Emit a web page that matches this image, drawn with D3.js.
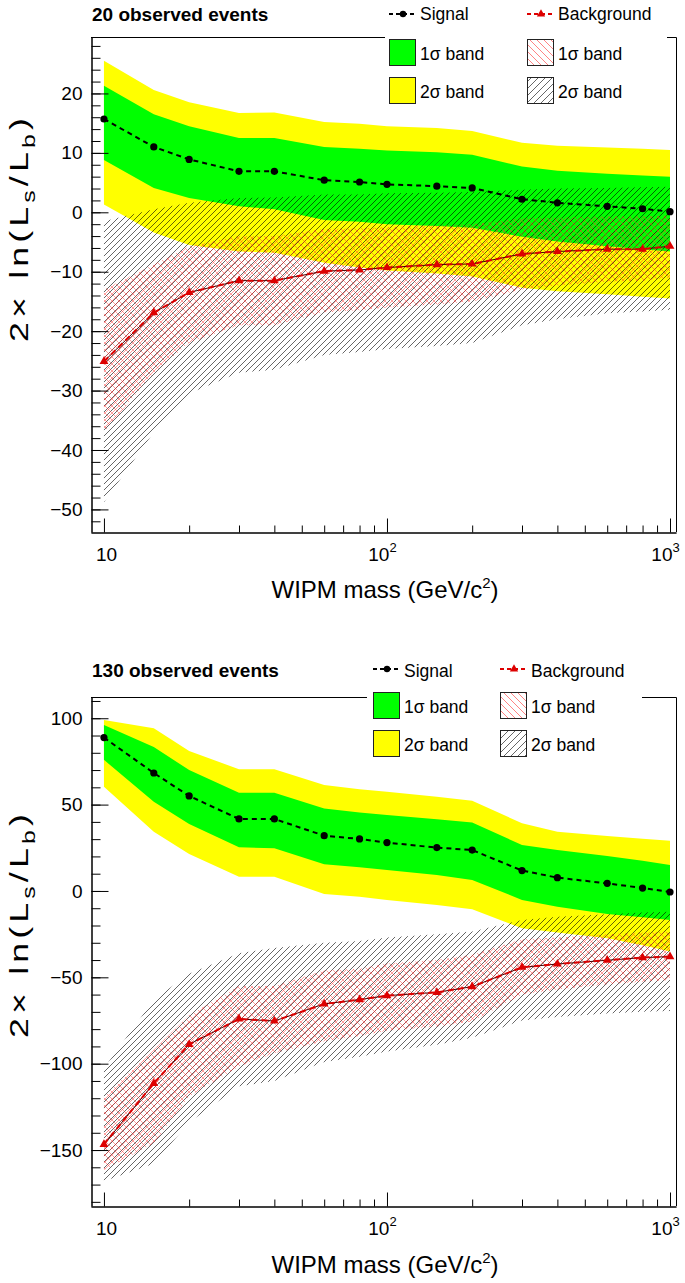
<!DOCTYPE html>
<html>
<head>
<meta charset="utf-8">
<script src="https://cdnjs.cloudflare.com/ajax/libs/d3/7.8.5/d3.min.js"></script>
<style>
body { margin: 0; background: #fff; }
svg { display: block; font-family: "Liberation Sans", Arial, Helvetica, sans-serif; }
</style>
</head>
<body>
<div class="js-chart"></div>
<script>
'use strict';

//wipm mass points (GeV/c^2)
var masses = [10, 15, 20, 30, 40, 60, 80, 100, 150, 200, 300, 400, 600, 800, 1000];

//20 observed events - signal hypothesis and its bands
var sig20 = [15.7, 11.0, 8.9, 6.9, 6.9, 5.4, 5.1, 4.7, 4.4, 4.1, 2.2, 1.6, 1.0, 0.6, 0.1];
var sig20Lo1 = [8.8, 4.1, 2.4, 1.0, 0.5, -1.3, -1.6, -2.0, -2.3, -2.6, -4.1, -4.9, -5.7, -6.2, -6.6];
var sig20Hi1 = [21.3, 16.5, 14.5, 12.5, 12.5, 11.0, 10.7, 10.4, 10.1, 9.7, 7.7, 7.0, 6.5, 6.2, 6.0];
var sig20Lo2 = [1.3, -3.4, -5.5, -6.6, -6.8, -8.5, -9.3, -9.8, -10.3, -10.8, -12.7, -13.3, -13.8, -14.2, -14.5];
var sig20Hi2 = [25.5, 20.6, 18.5, 16.7, 16.8, 15.2, 14.9, 14.5, 14.2, 13.7, 11.7, 11.2, 10.9, 10.7, 10.5];

//20 observed events - background hypothesis and its bands
var bkg20 = [-25.1, -16.9, -13.5, -11.5, -11.5, -9.9, -9.7, -9.3, -8.8, -8.7, -7.0, -6.6, -6.2, -6.2, -5.7];
var bkg20Lo1 = [-37, -27, -22, -19, -19, -16.8, -16.5, -16, -15.5, -15, -13, -12.3, -11.7, -11.5, -11];
var bkg20Hi1 = [-13, -8.8, -5.7, -4, -4, -2.8, -2.7, -2.5, -2.2, -2, -1, -0.9, -0.7, -0.7, -0.5];
var bkg20Lo2 = [-48.8, -37, -30.5, -27, -26.5, -24, -23.5, -23, -22.5, -22, -19, -18, -17, -16.7, -16.4];
var bkg20Hi2 = [-1.5, 0.5, 1.6, 2.4, 2.5, 3, 3, 3.2, 3.3, 3.4, 3.8, 4, 4.1, 4.2, 4.3];

//130 observed events - signal hypothesis and its bands
var sig130 = [88.8, 68.3, 55.0, 41.7, 41.7, 32.0, 30.1, 28.0, 25.1, 23.7, 11.8, 7.7, 4.4, 1.7, -0.6];
var sig130Lo1 = [75.9, 51.7, 38.8, 25.3, 24.7, 15.5, 13.7, 12.2, 9.3, 6.4, -5.2, -9.1, -13.3, -15.2, -16.8];
var sig130Hi1 = [96.1, 83.4, 70.0, 56.9, 56.9, 47.8, 45.4, 44.0, 41.5, 39.6, 26.6, 23.7, 20.3, 17.5, 15.1];
var sig130Lo2 = [60.4, 34.3, 21.4, 8.3, 8.3, -1.7, -3.3, -5.2, -8.1, -10.6, -21.6, -24.1, -27.4, -31.5, -35.1];
var sig130Hi2 = [99.0, 94.2, 81.0, 70.5, 70.5, 61.4, 58.9, 57.5, 54.6, 52.3, 39.2, 34.3, 31.8, 30.3, 29.1];

//130 observed events - background hypothesis and its bands
var bkg130 = [-146.7, -111.4, -88.8, -74.1, -75.3, -65.4, -62.9, -60.6, -58.7, -55.4, -44.2, -42.3, -40.1, -38.6, -38.0];
var bkg130Lo1 = [-161.5, -146, -119, -101.6, -94, -87, -84, -81, -78.5, -75.6, -60, -57, -54, -52.5, -51.5];
var bkg130Hi1 = [-119, -92, -72, -55, -55, -46, -45, -42, -40, -37, -28, -27, -25, -24, -23.6];
var bkg130Lo2 = [-168, -158, -134, -113, -110, -99, -96, -93, -89, -85, -75, -73, -71, -70, -69.5];
var bkg130Hi2 = [-102.6, -63, -48, -36, -33, -30, -29, -27, -25, -23.5, -16.8, -15, -13.5, -12.5, -12];

//axis ticks
var xMajor = [10, 100, 1000];
var xMinor = [20, 30, 40, 50, 60, 70, 80, 90, 200, 300, 400, 500, 600, 700, 800, 900];
var yMajor20 = [-50, -40, -30, -20, -10, 0, 10, 20];
var yMajor130 = [-150, -100, -50, 0, 50, 100];

var xDomain = [9.0, 1050];
var frameLeft = 91, frameRight = 676;

//one panel per observed count, layout in pixels
var panels = [
    {
        key: 'p20', title: '20 observed events',
        sig: sig20, sigLo1: sig20Lo1, sigHi1: sig20Hi1, sigLo2: sig20Lo2, sigHi2: sig20Hi2,
        bkg: bkg20, bkgLo1: bkg20Lo1, bkgHi1: bkg20Hi1, bkgLo2: bkg20Lo2, bkgHi2: bkg20Hi2,
        top: 37, bottom: 532, yDomain: [-53.8, 29.5],
        yMajor: yMajor20, yMinor: d3.range(-52, 29.5, 2),
        titleY: 21, xTitleY: 598, yTitleY: 228,
        leg: { x0: 385, x1: 667, y0: 0, y1: 108, c1: 389, c2: 527, lineY: 14, textY0: 20, box1: 39, box2: 77 }
    },
    {
        key: 'p130', title: '130 observed events',
        sig: sig130, sigLo1: sig130Lo1, sigHi1: sig130Hi1, sigLo2: sig130Lo2, sigHi2: sig130Hi2,
        bkg: bkg130, bkgLo1: bkg130Lo1, bkgHi1: bkg130Hi1, bkgLo2: bkg130Lo2, bkgHi2: bkg130Hi2,
        top: 697, bottom: 1206, yDomain: [-182.4, 112.3],
        yMajor: yMajor130, yMinor: d3.range(-180, 112, 10),
        titleY: 677, xTitleY: 1273, yTitleY: 924,
        leg: { x0: 367, x1: 642, y0: 650, y1: 762, c1: 373, c2: 500, lineY: 669, textY0: 677, box1: 692, box2: 730 }
    }
];

var svg = d3.select('.js-chart').append('svg')
    .attr('width', 685)
    .attr('height', 1283);
var defs = svg.append('defs');

//hatch patterns - "/" grey, "\" red, red cross
function addHatch(id, color, size, dirs, width) {
    var pat = defs.append('pattern')
        .attr('id', id)
        .attr('patternUnits', 'userSpaceOnUse')
        .attr('width', size)
        .attr('height', size);
    var d = '';
    if (dirs.indexOf('/') >= 0) {
        d += 'M0,' + size + ' L' + size + ',0 M-1,1 L1,-1 M' + (size - 1) + ',' + (size + 1) + ' L' + (size + 1) + ',' + (size - 1) + ' ';
    }
    if (dirs.indexOf('\\') >= 0) {
        d += 'M0,0 L' + size + ',' + size + ' M-1,' + (size - 1) + ' L1,' + (size + 1) + ' M' + (size - 1) + ',-1 L' + (size + 1) + ',1';
    }
    pat.append('path')
        .attr('d', d)
        .style('fill', 'none')
        .style('stroke', color)
        .style('stroke-width', width);
}
addHatch('hatch-grey', '#000', 6, '/', 0.6);
addHatch('hatch-red', '#ff3030', 7, '/\\', 0.55);
addHatch('hatch-red-leg', '#ff3030', 7, '\\', 0.6);
addHatch('hatch-grey-leg', '#000', 7, '/', 0.6);

function drawPanel(p) {
    var x = d3.scaleLog().domain(xDomain).range([frameLeft, frameRight]);
    var y = d3.scaleLinear().domain(p.yDomain).range([p.bottom, p.top]);
    var g = svg.append('g').attr('class', 'js-' + p.key);

    defs.append('clipPath').attr('id', 'clip-' + p.key)
        .append('rect')
        .attr('x', frameLeft).attr('y', p.top)
        .attr('width', frameRight - frameLeft).attr('height', p.bottom - p.top);
    var plot = g.append('g').attr('clip-path', 'url(#clip-' + p.key + ')');

    function band(lo, hi) {
        return d3.area()
            .x(function (d) { return x(d); })
            .y0(function (d, i) { return y(lo[i]); })
            .y1(function (d, i) { return y(hi[i]); })(masses);
    }
    function curve(vals) {
        return d3.line()
            .x(function (d) { return x(d); })
            .y(function (d, i) { return y(vals[i]); })(masses);
    }

    //signal bands
    plot.append('path').attr('d', band(p.sigLo2, p.sigHi2)).style('fill', '#ffff00');
    plot.append('path').attr('d', band(p.sigLo1, p.sigHi1)).style('fill', '#00ff00');

    //background bands as hatches
    plot.append('path').attr('d', band(p.bkgLo2, p.bkgHi2)).style('fill', 'url(#hatch-grey)');
    plot.append('path').attr('d', band(p.bkgLo1, p.bkgHi1)).style('fill', 'url(#hatch-red)').style('opacity', 0.85);

    //signal curve
    plot.append('path').attr('d', curve(p.sig))
        .style('fill', 'none').style('stroke', '#000')
        .style('stroke-width', 2).style('stroke-dasharray', '5,4');
    plot.selectAll('.js-sig-pt').data(masses).enter().append('circle')
        .attr('class', 'js-sig-pt')
        .attr('cx', function (d) { return x(d); })
        .attr('cy', function (d, i) { return y(p.sig[i]); })
        .attr('r', 3.6)
        .style('fill', '#000');

    //background curve - thin dark line under red dashes
    plot.append('path').attr('d', curve(p.bkg))
        .style('fill', 'none').style('stroke', '#400')
        .style('stroke-width', 1);
    plot.append('path').attr('d', curve(p.bkg))
        .style('fill', 'none').style('stroke', '#dd0000')
        .style('stroke-width', 2).style('stroke-dasharray', '6,4');
    plot.selectAll('.js-bkg-pt').data(masses).enter().append('path')
        .attr('class', 'js-bkg-pt')
        .attr('d', d3.symbol(d3.symbolTriangle).size(34))
        .attr('transform', function (d, i) { return 'translate(' + x(d) + ',' + y(p.bkg[i]) + ')'; })
        .style('fill', '#dd0000');

    //frame top and right
    g.append('path')
        .attr('d', 'M' + frameLeft + ',' + (p.top + 0.5) + 'H' + (frameRight + 0.5) + 'V' + p.bottom)
        .style('fill', 'none').style('stroke', '#000').style('stroke-width', 1);

    //y axis - ticks point inward
    var yAxisG = g.append('g').attr('transform', 'translate(' + (frameLeft + 0.5) + ',0)');
    yAxisG.append('g')
        .call(d3.axisLeft(y).tickValues(p.yMinor).tickSizeInner(-9).tickSizeOuter(0).tickFormat(''));
    yAxisG.append('g')
        .call(d3.axisLeft(y).tickValues(p.yMajor).tickSizeInner(-17).tickSizeOuter(0).tickPadding(9)
            .tickFormat(d3.format('d')));
    yAxisG.selectAll('text').attr('font-size', 19).attr('font-family', null).style('fill', '#000');

    //x axis - log, ticks point inward
    var xAxisG = g.append('g').attr('transform', 'translate(0,' + (p.bottom + 0.5) + ')');
    xAxisG.append('g')
        .call(d3.axisBottom(x).tickValues(xMinor).tickSizeInner(-7).tickSizeOuter(0).tickFormat(''));
    var xMajorG = xAxisG.append('g')
        .call(d3.axisBottom(x).tickValues(xMajor).tickSizeInner(-14).tickSizeOuter(0));
    xMajorG.selectAll('.tick text').each(function (d) {
        var t = d3.select(this);
        var e = Math.round(Math.log10(d));
        t.text('').attr('y', 28).attr('dy', null)
            .attr('font-size', 19).attr('font-family', null).style('fill', '#000');
        t.append('tspan').text('10');
        if (e > 1) {
            t.attr('x', -5);
            t.append('tspan').attr('dy', -9).attr('font-size', 13).text(e);
        } else {
            t.attr('x', 2);
        }
    });
    g.selectAll('.domain').style('stroke', '#000');

    //axis titles
    var xt = g.append('text')
        .attr('x', 385).attr('y', p.xTitleY)
        .attr('text-anchor', 'middle')
        .style('font-size', '24px');
    xt.append('tspan').text('WIPM mass (GeV/c');
    xt.append('tspan').attr('dy', -10).style('font-size', '15px').text('2');
    xt.append('tspan').attr('dy', 10).text(')');

    //y title spread out like the latex rendering
    var yt = g.append('text')
        .attr('text-anchor', 'middle')
        .style('font-size', '26px')
        .style('letter-spacing', '3px');
    yt.append('tspan').text('2\u00d7 ln(L');
    yt.append('tspan').attr('dy', 7).style('font-size', '18px').text('s');
    yt.append('tspan').attr('dy', -7).text('/L');
    yt.append('tspan').attr('dy', 7).style('font-size', '18px').text('b');
    yt.append('tspan').attr('dy', -7).text(')');
    var len = yt.node().getComputedTextLength();
    yt.attr('transform', 'translate(28,' + p.yTitleY + ') rotate(-90) scale(' + (228 / len) + ',1)');

    //panel title
    g.append('text')
        .attr('x', 92).attr('y', p.titleY)
        .style('font-size', '19px').style('font-weight', 'bold')
        .text(p.title);

    drawLegend(g, p.leg);
}

function drawLegend(g, L) {
    //white legend box covers the frame top
    g.append('rect')
        .attr('x', L.x0).attr('y', L.y0)
        .attr('width', L.x1 - L.x0).attr('height', L.y1 - L.y0)
        .style('fill', '#fff');

    var boxW = 26, boxH = 26, textDx = 31;

    //line entries
    g.append('line')
        .attr('x1', L.c1).attr('x2', L.c1 + 28).attr('y1', L.lineY).attr('y2', L.lineY)
        .style('stroke', '#000').style('stroke-width', 2).style('stroke-dasharray', '4,3');
    g.append('circle').attr('cx', L.c1 + 14).attr('cy', L.lineY).attr('r', 3.2).style('fill', '#000');
    g.append('line')
        .attr('x1', L.c2).attr('x2', L.c2 + 28).attr('y1', L.lineY).attr('y2', L.lineY)
        .style('stroke', '#dd0000').style('stroke-width', 2).style('stroke-dasharray', '4,3');
    g.append('path')
        .attr('d', d3.symbol(d3.symbolTriangle).size(30))
        .attr('transform', 'translate(' + (L.c2 + 14) + ',' + L.lineY + ')')
        .style('fill', '#dd0000');

    //box entries
    var boxes = [
        { x: L.c1, y: L.box1, fill: '#00ff00' },
        { x: L.c1, y: L.box2, fill: '#ffff00' },
        { x: L.c2, y: L.box1, fill: 'url(#hatch-red-leg)' },
        { x: L.c2, y: L.box2, fill: 'url(#hatch-grey-leg)' }
    ];
    boxes.forEach(function (b) {
        g.append('rect')
            .attr('x', b.x + 0.5).attr('y', b.y + 0.5)
            .attr('width', boxW).attr('height', boxH)
            .style('fill', b.fill)
            .style('stroke', '#222').style('stroke-width', 1);
    });

    var texts = [
        { x: L.c1 + textDx, y: L.textY0, t: 'Signal' },
        { x: L.c2 + textDx, y: L.textY0, t: 'Background' },
        { x: L.c1 + textDx, y: L.box1 + 20.5, t: '1\u03c3 band' },
        { x: L.c1 + textDx, y: L.box2 + 20.5, t: '2\u03c3 band' },
        { x: L.c2 + textDx, y: L.box1 + 20.5, t: '1\u03c3 band' },
        { x: L.c2 + textDx, y: L.box2 + 20.5, t: '2\u03c3 band' }
    ];
    texts.forEach(function (d) {
        g.append('text')
            .attr('x', d.x).attr('y', d.y)
            .style('font-size', '17.5px')
            .text(d.t);
    });
}

panels.forEach(drawPanel);
</script>
</body>
</html>
